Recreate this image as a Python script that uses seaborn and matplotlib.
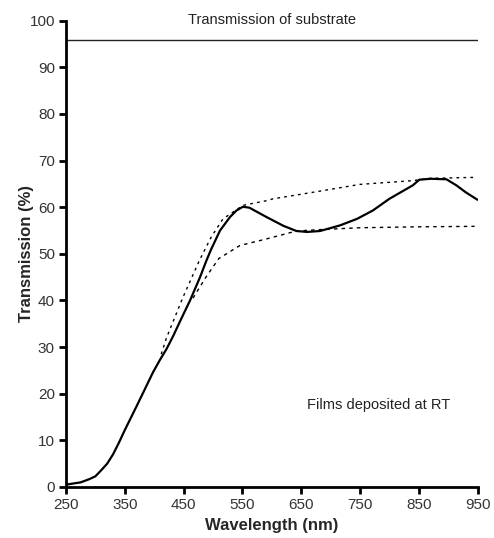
import numpy as np
import pandas as pd
import matplotlib
matplotlib.use("Agg")
import matplotlib.pyplot as plt
import seaborn as sns

# Measured film transmission (solid curve)
film_wl = [250, 275, 290, 300, 310, 320, 330, 340, 350, 370, 385, 398, 410, 421, 432,
           445, 461, 478, 489, 497, 512, 529, 540, 551, 562, 575, 591, 620, 642,
           660, 682, 716, 745, 772, 800, 840, 851, 870, 897, 914, 930, 950]
film_t = [0.5, 1.0, 1.7, 2.3, 3.6, 5.0, 7.0, 9.5, 12.2, 17.3, 21.2, 24.6, 27.3, 29.6, 32.3,
          35.8, 40.0, 45.0, 48.6, 51.0, 55.0, 57.9, 59.3, 60.1, 59.9, 59.0, 57.9, 56.0, 54.9,
          54.7, 54.9, 56.1, 57.5, 59.3, 61.8, 64.7, 65.9, 66.1, 66.0, 64.7, 63.2, 61.6]

# Upper envelope T_M
upper_wl = [412, 421, 449, 477, 497, 517, 551, 591, 602, 670, 750, 840, 870, 945]
upper_t = [28.5, 32.0, 40.7, 48.6, 53.6, 57.5, 60.4, 61.4, 61.8, 63.2, 64.9, 65.7, 66.2, 66.4]

# Lower envelope T_m
lower_wl = [466, 488, 510, 546, 591, 642, 682, 750, 850, 945]
lower_t = [40.5, 45.0, 49.0, 51.8, 53.2, 54.9, 55.2, 55.6, 55.8, 55.9]

# Bare substrate transmission
substrate_wl = [250, 950]
substrate_t = [95.8, 95.8]

x_ticks = [250, 350, 450, 550, 650, 750, 850, 950]
y_ticks = [0, 10, 20, 30, 40, 50, 60, 70, 80, 90, 100]

sns.set_theme(style="ticks")
plt.rcParams["font.family"] = ["Liberation Sans", "DejaVu Sans"]

fig = plt.figure(figsize=(4.94, 5.38), dpi=100)
ax = fig.add_axes([0.1336, 0.0948, 0.833, 0.8667])

sns.lineplot(x=substrate_wl, y=substrate_t, ax=ax, color="#222222", lw=1.0)
sns.lineplot(x=upper_wl, y=upper_t, ax=ax, color="black", lw=1.0,
             linestyle=(0, (2, 3)), sort=False)
sns.lineplot(x=lower_wl, y=lower_t, ax=ax, color="black", lw=1.0,
             linestyle=(0, (2.5, 3)), sort=False)
sns.lineplot(x=film_wl, y=film_t, ax=ax, color="black", lw=1.6, sort=False)

ax.set_xlim(250, 950)
ax.set_ylim(0, 100)
ax.set_xticks(x_ticks)
ax.set_yticks(y_ticks)
ax.tick_params(axis="both", direction="out", length=5, width=2, labelsize=11,
               labelcolor="#333333", color="black", pad=3)

for side in ("top", "right"):
    ax.spines[side].set_visible(False)
for side in ("left", "bottom"):
    ax.spines[side].set_linewidth(2)
    ax.spines[side].set_color("black")

ax.set_xlabel("Wavelength (nm)", fontsize=12, fontweight="bold", labelpad=4)
ax.set_ylabel("Transmission (%)", fontsize=12, fontweight="bold")
ax.yaxis.set_label_coords(-0.078, 0.5)

ax.text(600, 98.6, "Transmission of substrate", ha="center", va="bottom",
        fontsize=10.5, color="#222222")
ax.text(782, 17.5, "Films deposited at RT", ha="center", va="center",
        fontsize=10.5, color="#222222")

fig.savefig("out.png", dpi=100)
